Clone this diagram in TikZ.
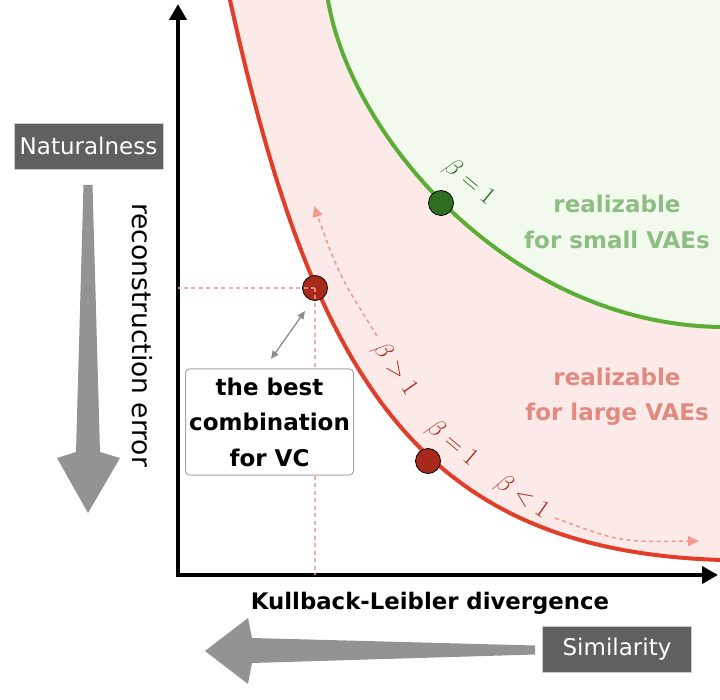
\documentclass[tikz,border=0pt]{standalone}
\usepackage{fontspec}
\setmainfont{DejaVu Sans}
\usetikzlibrary{arrows.meta}
\definecolor{pinkfill}{HTML}{FCEAE8}
\definecolor{greenfill}{HTML}{F2FAEE}
\definecolor{redcurve}{HTML}{E23D28}
\definecolor{greencurve}{HTML}{5CAD35}
\definecolor{greendot}{HTML}{2F6E1F}
\definecolor{reddot}{HTML}{A8291A}
\definecolor{salmon}{HTML}{F29A8E}
\definecolor{greentext}{HTML}{8EBD84}
\definecolor{pinktext}{HTML}{E08A80}
\definecolor{boxgray}{HTML}{606060}
\definecolor{arrowgray}{HTML}{939393}
\begin{document}
\begin{tikzpicture}[x=1pt,y=-1pt,
  axis/.style={line width=4pt,-{Triangle[length=16pt,width=17pt]}},
  dotnode/.style={circle,draw=black,line width=0.8pt,minimum size=25pt,inner sep=0pt},
  xhair/.style={draw=salmon,line width=1.4pt,dash pattern=on 4pt off 3.5pt,opacity=0.8},
  betaarrow/.style={draw=salmon,line width=1.6pt,dash pattern=on 4pt off 3.5pt,-{Triangle[length=11pt,width=10pt]}},
  graybox/.style={fill=boxgray,draw=black!20,line width=0.6pt,text=white,minimum width=149pt,minimum height=46pt,inner sep=0pt,font=\fontsize{23}{28}\selectfont},
  boldlab/.style={font=\fontsize{23}{35.5}\selectfont\bfseries,align=center},
  betalab/.style={font=\fontsize{23}{26}\selectfont,inner sep=0pt}
]
\useasboundingbox (0,0) rectangle (720,700);
\begin{scope}
\clip (0,0) rectangle (720,700);
\fill[pinkfill] (230,0) .. controls (313.6,380) and (420,551) .. (722,560) -- (725,560) -- (725,-10) -- cycle;
\fill[greenfill] (328,0) .. controls (350,135) and (510,325) .. (722,327) -- (725,327) -- (725,-10) -- cycle;
\draw[redcurve,line width=4pt] (228.5,-8) -- (230,0) .. controls (313.6,380) and (420,551) .. (722,560);
\draw[greencurve,line width=4pt] (327,-8) -- (328,0) .. controls (350,135) and (510,325) .. (722,327);
\end{scope}
% axes
\coordinate (O) at (178,575);
\coordinate (ytop) at (178,4);
\coordinate (xend) at (718,575);
\draw[axis] (178,577) -- (ytop);
\draw[axis] (176,575) -- (xend);
% dots
\node[dotnode,fill=greendot] (g1) at (441,203) {};
\node[dotnode,fill=reddot] (best) at (315,288) {};
\node[dotnode,fill=reddot] (r1) at (428,461) {};
% crosshair
\draw[xhair] (best.center) -- (best.center -| O);
\draw[xhair] (best.center) -- (best.center |- O);
% beta arrows
\coordinate (bg1) at (377,336);
\coordinate (bg2) at (314,206);
\draw[betaarrow] (bg1) .. controls (339,275) .. (bg2);
\coordinate (bl1) at (555,518);
\coordinate (bl2) at (699,541);
\draw[betaarrow] (bl1) .. controls (620,542) .. (bl2);
% box
\node[draw=black!35,line width=1pt,rounded corners=4pt,fill=white,minimum width=168pt,minimum height=106pt,inner sep=0pt,boldlab] (box) at (269.5,422) {the best\\combination\\for VC};
\coordinate (da1) at (271,359);
\coordinate (da2) at (305,311);
\draw[draw=black!45,line width=1.3pt,{Triangle[length=8pt,width=7pt]}-{Triangle[length=8pt,width=7pt]}] (da1) -- (da2);
% beta labels
\node[betalab,text=greendot,rotate=-40] (bl) at (469,182) {$\beta = 1$};
\node[betalab,text=reddot,rotate=-40] (rbl) at (452,443) {$\beta = 1$};
\node[betalab,text=reddot,rotate=-55] (gtl) at (395,369) {$\beta > 1$};
\node[betalab,text=reddot,rotate=-35] (ltl) at (522,497) {$\beta < 1$};
% region labels
\node[boldlab,text=greentext] (small) at (617,222) {realizable\\for small VAEs};
\node[boldlab,text=pinktext] (large) at (617,396.5) {realizable\\for large VAEs};
% axis labels
\node[font=\fontsize{22.8}{28}\selectfont\bfseries] (xlab) at (430,603) {Kullback-Leibler divergence};
\node[font=\fontsize{26.5}{30}\selectfont,rotate=-90] (ylab) at (142,335) {reconstruction error};
% gray boxes
\node[graybox] (nat) at (88.5,146) {Naturalness};
\node[graybox] (sim) at (617,649.5) {Similarity};
% big gray arrows
\fill[arrowgray] (83.5,185) -- (92.5,185) -- (100,452) -- (120,458) -- (88,513) -- (57,458) -- (76,452) -- cycle;
\fill[arrowgray] (535,645.5) -- (535,654.5) -- (252,663) -- (248,684) -- (205,651) -- (248,618) -- (252,638) -- cycle;
\end{tikzpicture}
\end{document}
